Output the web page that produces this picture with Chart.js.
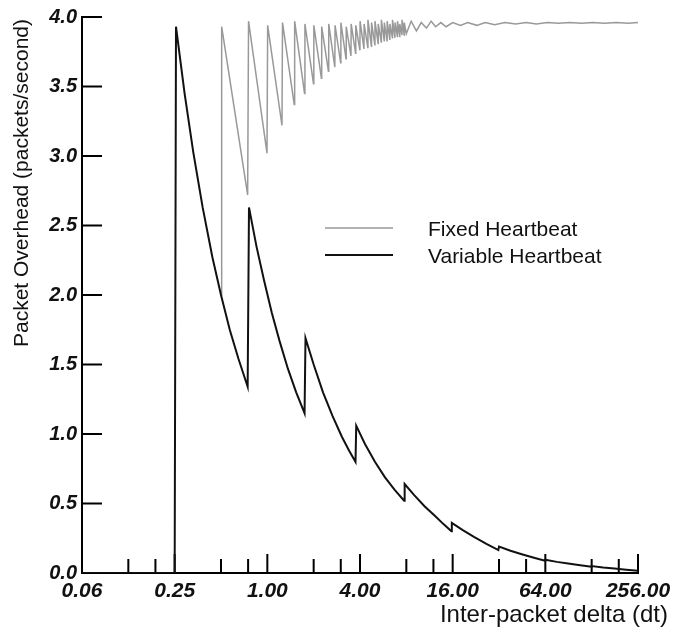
<!DOCTYPE html>
<html>
<head>
<meta charset="utf-8">
<script src="https://cdn.jsdelivr.net/npm/chart.js@4.4.0/dist/chart.umd.min.js"></script>
<style>
  html, body { margin: 0; padding: 0; background: #fff; }
</style>
</head>
<body>
<canvas id="chart" width="687" height="633"></canvas>
<script>
// ------------------- DATA -------------------
// x axis (log2): labelled ticks and the small in-between ticks
const xTickValues = [0.0625, 0.25, 1, 4, 16, 64, 256];
const xTickLabels = ["0.06", "0.25", "1.00", "4.00", "16.00", "64.00", "256.00"];
const xMinorTicks = [0.125, 0.1875, 0.5, 0.75, 2, 3, 8, 12, 32, 48, 128, 192];
const yTickValues = [0, 0.5, 1, 1.5, 2, 2.5, 3, 3.5, 4];

// Fixed heartbeat (grey sawtooth)
const fixedDt = [
  0.5,
  0.505, 0.745, 0.755, 0.995, 1.005, 1.245, 1.255, 1.495, 1.505, 1.745, 1.755, 1.995,
  2.005, 2.245, 2.255, 2.495, 2.505, 2.745, 2.755, 2.995, 3.005, 3.245, 3.255, 3.495, 3.505, 3.745, 3.755, 3.995,
  4.005, 4.245, 4.255, 4.495, 4.505, 4.745, 4.755, 4.995, 5.005, 5.245, 5.255, 5.495, 5.505, 5.745, 5.755, 5.995,
  6.005, 6.245, 6.255, 6.495, 6.505, 6.745, 6.755, 6.995, 7.005, 7.245, 7.255, 7.495, 7.505, 7.745, 7.755, 7.995,
  8.6, 9.3, 10, 10.8, 11.6, 12.4, 13.4, 14.5, 16, 18, 20, 23, 26, 30, 35, 41, 48, 56, 66, 78, 92, 110, 130, 155, 185, 220, 256
];
const fixedRate = [
  2.0,
  3.93, 2.72, 3.97, 3.02, 3.94, 3.22, 3.96, 3.37, 3.97, 3.45, 3.95, 3.52,
  3.94, 3.56, 3.93, 3.61, 3.95, 3.64, 3.94, 3.67, 3.96, 3.70, 3.93, 3.72, 3.95, 3.74, 3.94, 3.76,
  3.97, 3.77, 3.95, 3.78, 3.98, 3.79, 3.96, 3.80, 3.97, 3.81, 3.95, 3.82, 3.98, 3.83, 3.96, 3.83,
  3.97, 3.84, 3.95, 3.85, 3.98, 3.85, 3.96, 3.86, 3.97, 3.86, 3.95, 3.87, 3.98, 3.87, 3.96, 3.88,
  3.97, 3.90, 3.96, 3.92, 3.97, 3.93, 3.96, 3.93, 3.96, 3.94, 3.96, 3.94, 3.96, 3.945, 3.96, 3.95, 3.96, 3.95, 3.96, 3.955, 3.96, 3.955, 3.96, 3.955, 3.96, 3.955, 3.96
];

// Variable heartbeat (black)
const variableDt = [
  0.0625, 0.25, 0.255, 0.29, 0.33, 0.38, 0.44, 0.5, 0.57, 0.65, 0.745,
  0.76, 0.85, 0.95, 1.07, 1.2, 1.36, 1.54, 1.745,
  1.77, 2.0, 2.3, 2.65, 3.05, 3.4, 3.74,
  3.78, 4.3, 5.0, 5.8, 6.7, 7.74,
  7.8, 9, 10.5, 12.3, 14, 15.7,
  15.8, 18.5, 22, 26.5, 31.7,
  32, 38, 45, 54, 63.7,
  64, 76, 90, 108, 127.5,
  128, 152, 180, 215, 256
];
const variableRate = [
  0, 0, 3.93, 3.45, 3.03, 2.63, 2.27, 2.0, 1.75, 1.54, 1.34,
  2.63, 2.35, 2.11, 1.87, 1.67, 1.47, 1.30, 1.15,
  1.69, 1.50, 1.30, 1.13, 0.98, 0.88, 0.80,
  1.06, 0.93, 0.80, 0.69, 0.60, 0.52,
  0.64, 0.56, 0.48, 0.41, 0.35, 0.30,
  0.36, 0.31, 0.26, 0.21, 0.165,
  0.19, 0.16, 0.135, 0.11, 0.088,
  0.095, 0.08, 0.068, 0.056, 0.045,
  0.05, 0.04, 0.032, 0.024, 0.017
];

const FONT = "'Liberation Sans', Arial, Helvetica, sans-serif";

// ------------------- TICKS, TITLES, LEGEND -------------------
const decorations = {
  id: "decorations",
  beforeDatasetsDraw(chart) {
    const { ctx, scales: { x, y } } = chart;
    ctx.save();
    ctx.strokeStyle = "#000";
    ctx.lineWidth = 2;
    ctx.beginPath();
    yTickValues.forEach(v => {
      const py = y.getPixelForValue(v);
      ctx.moveTo(x.left, py);
      ctx.lineTo(x.left + 20, py);
    });
    xTickValues.forEach(v => {
      const px = x.getPixelForValue(v);
      ctx.moveTo(px, y.bottom);
      ctx.lineTo(px, y.bottom - 19);
    });
    xMinorTicks.forEach(v => {
      const px = x.getPixelForValue(v);
      ctx.moveTo(px, y.bottom);
      ctx.lineTo(px, y.bottom - 14);
    });
    ctx.stroke();
    ctx.restore();
  },
  afterDraw(chart) {
    const ctx = chart.ctx;
    const sets = chart.data.datasets;
    ctx.save();
    ctx.fillStyle = "#111";

    // y title
    ctx.save();
    ctx.translate(22, 183);
    ctx.rotate(-Math.PI / 2);
    ctx.font = "21px " + FONT;
    ctx.textAlign = "center";
    ctx.textBaseline = "middle";
    ctx.fillText("Packet Overhead (packets/second)", 0, 0);
    ctx.restore();

    // x title
    ctx.font = "24px " + FONT;
    ctx.textAlign = "right";
    ctx.textBaseline = "alphabetic";
    ctx.fillText("Inter-packet delta (dt)", 668, 622);

    // legend
    const rows = [228, 255];
    ctx.font = "21px " + FONT;
    ctx.textAlign = "left";
    sets.forEach((ds, i) => {
      ctx.strokeStyle = ds.borderColor;
      ctx.lineWidth = ds.borderWidth;
      ctx.beginPath();
      ctx.moveTo(325, rows[i]);
      ctx.lineTo(393, rows[i]);
      ctx.stroke();
      ctx.fillText(ds.label, 428, rows[i] + 8);
    });
    ctx.restore();
  }
};

// ------------------- CHART -------------------
const ctx = document.getElementById("chart").getContext("2d");
new Chart(ctx, {
  type: "line",
  data: {
    datasets: [
      {
        label: "Fixed Heartbeat",
        data: fixedDt.map((d, i) => ({ x: d, y: fixedRate[i] })),
        borderColor: "#999999",
        borderWidth: 1.5,
        pointRadius: 0,
        order: 2
      },
      {
        label: "Variable Heartbeat",
        data: variableDt.map((d, i) => ({ x: d, y: variableRate[i] })),
        borderColor: "#111111",
        borderWidth: 2,
        pointRadius: 0,
        order: 1
      }
    ]
  },
  options: {
    responsive: false,
    animation: false,
    layout: { padding: { top: 17, right: 49, bottom: 0, left: 0 } },
    plugins: { legend: { display: false }, tooltip: { enabled: false } },
    scales: {
      x: {
        type: "logarithmic",
        min: 0.0625,
        max: 256,
        afterBuildTicks: s => { s.ticks = xTickValues.map(v => ({ value: v })); },
        afterFit: s => { s.height = 60; },
        grid: { display: false, drawTicks: false },
        border: { display: true, color: "#000", width: 2 },
        ticks: {
          autoSkip: false,
          maxRotation: 0,
          padding: 6,
          color: "#111",
          font: { family: FONT, size: 21, weight: "bold", style: "italic" },
          callback: (v, i) => xTickLabels[i]
        }
      },
      y: {
        type: "linear",
        min: 0,
        max: 4,
        afterBuildTicks: s => { s.ticks = yTickValues.map(v => ({ value: v })); },
        afterFit: s => { s.width = 82; },
        grid: { display: false, drawTicks: false },
        border: { display: true, color: "#000", width: 2 },
        ticks: {
          padding: 5,
          color: "#111",
          font: { family: FONT, size: 20, weight: "bold", style: "italic" },
          callback: v => v.toFixed(1)
        }
      }
    }
  },
  plugins: [decorations]
});
</script>
</body>
</html>
